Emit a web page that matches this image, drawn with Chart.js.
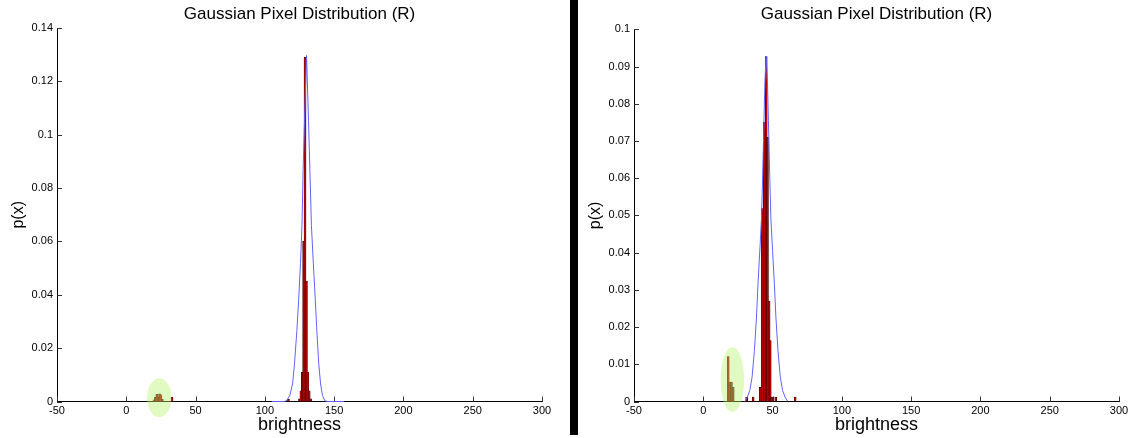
<!DOCTYPE html>
<html><head><meta charset="utf-8">
<script src="https://cdn.jsdelivr.net/npm/chart.js@4"></script>
<style>
html,body{margin:0;padding:0;background:#fff;width:1133px;height:438px;overflow:hidden;}
#c1{position:absolute;left:0;top:0;}
#c2{position:absolute;left:578px;top:0;}
#divider{position:absolute;left:570px;top:0;width:8px;height:435px;background:#000;}
</style></head><body>
<canvas id="c1" width="570" height="438"></canvas>
<div id="divider"></div>
<canvas id="c2" width="555" height="438"></canvas>
<script>
// ---------- data ----------
const titleText = 'Gaussian Pixel Distribution (R)';
const xTitle = 'brightness';
const yTitle = 'p(x)';
const xTicks = [-50, 0, 50, 100, 150, 200, 250, 300];
const leftYTicks = [0, 0.02, 0.04, 0.06, 0.08, 0.1, 0.12, 0.14];
const rightYTicks = [0, 0.01, 0.02, 0.03, 0.04, 0.05, 0.06, 0.07, 0.08, 0.09, 0.1];

// left panel histogram
const leftBarX = [20, 21, 22, 23, 24, 25, 26, 33, 117, 125, 126, 127, 128, 129, 130, 131, 132, 133];
const leftBarY = [0.0006, 0.0016, 0.0027, 0.0016, 0.0029, 0.0025, 0.0008, 0.0016, 0.0008, 0.001, 0.004, 0.011, 0.060, 0.129, 0.045, 0.011, 0.004, 0.001];
// left panel fitted curve
const leftCurveX = [105, 114, 115.6, 118, 120, 121.4, 123.1, 124.5, 125.7, 126.8, 127.6, 128.6, 130.1, 131.5, 132.5, 133.6, 135.0, 136.3, 137.5, 138.9, 140.2, 141.6, 143.3, 145, 157];
const leftCurveY = [0, 0, 0.0003, 0.0022, 0.0066, 0.0141, 0.0266, 0.0391, 0.0516, 0.066, 0.0866, 0.1054, 0.1297, 0.1054, 0.0866, 0.066, 0.0516, 0.0391, 0.0266, 0.0141, 0.0066, 0.0022, 0.0003, 0, 0];

// right panel histogram
const rightBarX = [18, 19.1, 20.3, 21.6, 31.3, 36, 41.1, 42.5, 44, 45.4, 46.3, 47.5, 48.3, 49.3, 52.3, 66.3];
const rightBarY = [0.0121, 0.0052, 0.0052, 0.0038, 0.0012, 0.0012, 0.0038, 0.0518, 0.0751, 0.0927, 0.071, 0.027, 0.0164, 0.0012, 0.0012, 0.0012];
// right panel fitted curve
const rightCurveX = [29.8, 30.4, 31.8, 33.6, 35.2, 36.9, 38.4, 39.5, 40.8, 42.0, 42.8, 43.8, 44.5, 45.4, 46.3, 47.0, 48.0, 48.8, 50.0, 51.3, 52.4, 53.9, 55.6, 57.2, 59.0, 60.6, 61.2];
const rightCurveY = [0, 0.0002, 0.0012, 0.003, 0.0065, 0.0137, 0.0227, 0.0316, 0.0406, 0.049, 0.060, 0.0755, 0.086, 0.0928, 0.086, 0.0755, 0.060, 0.049, 0.0406, 0.0316, 0.0227, 0.0137, 0.0065, 0.003, 0.0012, 0.0002, 0];

// highlighted regions: [centre x, centre y, radius x, radius y] in data units
const leftHighlight = [23.8, 0.0014, 8.8, 0.0073];
const rightHighlight = [21, 0.0059, 8.5, 0.0087];

// ---------- rendering ----------
const FONT = "'Liberation Sans', Arial, Helvetica, sans-serif";
const TITLE_FONT = "'Comic Sans MS', 'Liberation Sans', Arial, sans-serif";
Chart.defaults.font.family = FONT;
Chart.defaults.color = '#000';

const inwardTicks = {
  id: 'inwardTicks',
  afterDraw(chart) {
    const {ctx, chartArea, scales: {x, y}} = chart;
    ctx.save();
    ctx.strokeStyle = '#333';
    ctx.lineWidth = 1;
    ctx.beginPath();
    x.ticks.forEach(t => {
      const px = Math.round(x.getPixelForValue(t.value)) + 0.5;
      ctx.moveTo(px, chartArea.bottom);
      ctx.lineTo(px, chartArea.bottom - 5);
    });
    y.ticks.forEach(t => {
      const py = Math.round(y.getPixelForValue(t.value)) + 0.5;
      ctx.moveTo(chartArea.left, py);
      ctx.lineTo(chartArea.left + 5, py);
    });
    ctx.stroke();
    ctx.restore();
  }
};

const highlight = {
  id: 'highlight',
  afterDatasetsDraw(chart, args, opts) {
    const {ctx, scales: {x, y}} = chart;
    const [cx, cy, rx, ry] = opts.ellipse;
    const px = x.getPixelForValue(cx), py = y.getPixelForValue(cy);
    const prx = Math.abs(x.getPixelForValue(cx + rx) - px);
    const pry = Math.abs(y.getPixelForValue(cy + ry) - py);
    ctx.save();
    ctx.fillStyle = 'rgba(180, 242, 110, 0.42)';
    ctx.beginPath();
    ctx.ellipse(px, py, prx, pry, 0, 0, Math.PI * 2);
    ctx.fill();
    ctx.restore();
  }
};

function makeChart(id, barX, barY, curveX, curveY, yMax, yTicks, ell, dims) {
  new Chart(document.getElementById(id), {
    type: 'bar',
    data: {
      datasets: [
        {
          type: 'line',
          data: curveX.map((v, i) => ({x: v, y: curveY[i]})),
          borderColor: '#6262ff',
          borderWidth: 1,
          pointRadius: 0,
          tension: 0,
          fill: false,
          clip: false,
          order: 0
        },
        {
          type: 'bar',
          data: barX.map((v, i) => ({x: v, y: barY[i]})),
          backgroundColor: '#b80000',
          borderColor: '#200000',
          borderWidth: 0.5,
          barThickness: 2,
          grouped: false,
          order: 1
        }
      ]
    },
    options: {
      responsive: false,
      animation: false,
      events: [],
      layout: {padding: {left: 0, right: dims.right, top: 0, bottom: 0}},
      plugins: {
        legend: {display: false},
        tooltip: {enabled: false},
        title: {
          display: true, text: titleText, fullSize: false, color: '#000',
          font: {family: TITLE_FONT, size: 17, weight: 'normal', lineHeight: 1.2},
          padding: {top: dims.titleTop, bottom: dims.titleBottom}
        },
        highlight: {ellipse: ell}
      },
      scales: {
        x: {
          type: 'linear', min: -50, max: 300, offset: false,
          afterBuildTicks: s => { s.ticks = xTicks.map(v => ({value: v})); },
          afterFit: s => { s.height = 36.5; },
          ticks: {autoSkip: false, maxRotation: 0, padding: 3, color: '#000', font: {size: 11}, callback: v => String(v)},
          grid: {display: false, drawTicks: false, offset: false},
          border: {display: true, color: '#000', width: 1},
          title: {display: true, text: xTitle, color: '#000', font: {family: TITLE_FONT, size: 18, lineHeight: 1.2}, padding: {top: 0, bottom: 2.2}}
        },
        y: {
          type: 'linear', min: 0, max: yMax,
          afterBuildTicks: s => { s.ticks = yTicks.map(v => ({value: v})); },
          afterFit: s => { s.width = dims.yWidth; },
          ticks: {padding: 4, color: '#000', font: {size: 11}, callback: v => String(parseFloat(Number(v).toFixed(4)))},
          grid: {display: false, drawTicks: false},
          border: {display: true, color: '#000', width: 1},
          title: {display: true, text: yTitle, color: '#000', font: {size: 16, lineHeight: 1.2}, padding: {top: dims.yTitlePad, bottom: 0}}
        }
      }
    },
    plugins: [highlight, inwardTicks]
  });
}

makeChart('c1', leftBarX, leftBarY, leftCurveX, leftCurveY, 0.14, leftYTicks, leftHighlight,
  {right: 28, titleTop: 4, titleBottom: 3.6, yWidth: 57, yTitlePad: 9.4});
makeChart('c2', rightBarX, rightBarY, rightCurveX, rightCurveY, 0.1, rightYTicks, rightHighlight,
  {right: 14, titleTop: 4.5, titleBottom: 4.4, yWidth: 56, yTitlePad: 8.4});
</script>
</body></html>
